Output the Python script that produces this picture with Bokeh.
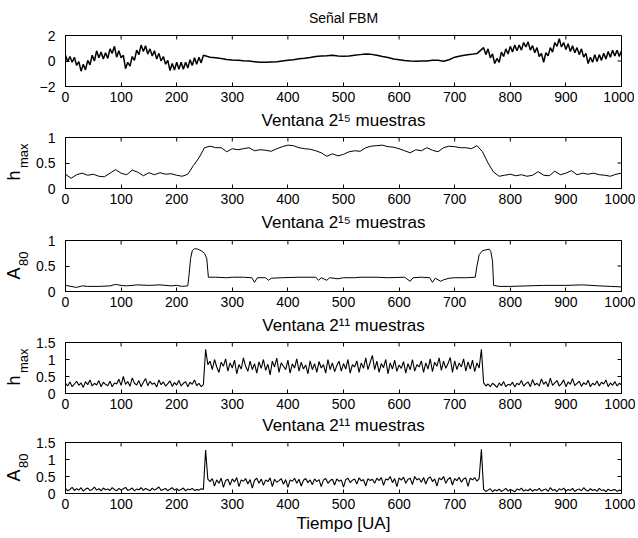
import numpy as np
from bokeh.plotting import figure
from bokeh.layouts import column
from bokeh.models import Range1d, LinearAxis, FixedTicker
from bokeh.embed import file_html
from bokeh.resources import INLINE

# ---------------- data ----------------
x_ticks = [0, 100, 200, 300, 400, 500, 600, 700, 800, 900, 1000]

# Panel 1: Señal FBM
fbm_x = list(range(0, 252, 4)) + list(range(260, 750, 10)) + list(range(752, 1001, 4))
fbm_y = [
    # 0..248 step 4
    0.45, -0.05, 0.35, -0.1, 0.3, -0.35, -0.05, -0.8, -0.25, -0.7,
    0.05, -0.3, 0.45, 0.0, 0.8, 0.25, 0.7, 0.15, 0.65, 0.2,
    0.95, 0.6, 1.15, 0.3, 0.8, 0.25, 0.45, -0.6, -0.1, -0.4,
    0.35, 0.05, 0.85, 0.5, 1.25, 0.75, 1.2, 0.55, 0.95, 0.4,
    0.8, 0.15, 0.6, 0.0, 0.35, -0.25, 0.05, -0.75, -0.2, -0.7,
    -0.1, -0.65, -0.1, -0.65, -0.1, -0.55, 0.1, -0.35, 0.25, -0.25,
    0.3, -0.15, 0.45,
    # 260..740 step 10
    0.3, 0.25, 0.2, 0.12, 0.08, 0.05, 0.02, 0.0, -0.05, -0.1,
    -0.1, -0.08, -0.06, 0.0, 0.05, 0.1, 0.18, 0.22, 0.28, 0.35,
    0.4, 0.42, 0.45, 0.4, 0.37, 0.4, 0.45, 0.5, 0.55, 0.52,
    0.45, 0.35, 0.27, 0.15, 0.09, 0.03, 0.0, -0.02, 0.0, 0.0,
    0.05, 0.06, -0.02, 0.1, 0.3, 0.4, 0.47, 0.52, 0.58,
    # 752..1000 step 4
    1.05, 0.5, 0.95, 0.25, 0.55, -0.2, 0.2, -0.1, 0.7, 0.35,
    0.95, 0.55, 1.15, 0.7, 1.25, 0.8, 1.25, 0.85, 1.45, 1.1,
    1.5, 0.85, 1.2, 0.65, 1.05, 0.35, 0.6, -0.1, 0.65, 0.4,
    1.05, 0.7, 1.45, 1.15, 1.75, 1.1, 1.45, 0.9, 1.35, 0.75,
    1.2, 0.65, 1.05, 0.5, 0.95, 0.3, 0.6, -0.2, 0.3, -0.1,
    0.5, -0.05, 0.5, 0.05, 0.6, 0.15, 0.75, 0.3, 0.85, 0.4,
    0.85, 0.35, 0.8,
]

# Panel 2: h_max, ventana 2^15
hmax15_x = list(range(0, 1001, 10))
hmax15_y = [
    0.28, 0.2, 0.27, 0.3, 0.26, 0.28, 0.24, 0.23, 0.3, 0.37,
    0.3, 0.27, 0.36, 0.32, 0.25, 0.31, 0.27, 0.31, 0.28, 0.29,
    0.26, 0.24, 0.28, 0.45, 0.6, 0.8, 0.83, 0.8, 0.8, 0.72,
    0.78, 0.76, 0.78, 0.8, 0.74, 0.76, 0.75, 0.73, 0.78, 0.82,
    0.85, 0.84, 0.8, 0.78, 0.77, 0.74, 0.7, 0.63, 0.68, 0.64,
    0.67, 0.72, 0.74, 0.73, 0.8, 0.83, 0.84, 0.85, 0.82, 0.81,
    0.78, 0.74, 0.7, 0.76, 0.74, 0.8, 0.75, 0.72, 0.8, 0.83,
    0.82, 0.8, 0.8, 0.78, 0.84, 0.72, 0.5, 0.32, 0.24, 0.26,
    0.28, 0.25, 0.27, 0.24, 0.26, 0.33, 0.26, 0.25, 0.34, 0.27,
    0.3, 0.35, 0.27, 0.3, 0.28, 0.3, 0.27, 0.26, 0.24, 0.28,
    0.3,
]

# Panel 3: A_80, ventana 2^15
a8015_x = [0, 10, 20, 30, 40, 60, 80, 90, 100, 110, 130, 150, 170, 190, 200, 210, 220,
           222, 225, 228, 232, 238, 244, 250, 254, 256, 257, 270, 290, 300, 320, 335,
           340, 345, 360, 365, 370, 390, 420, 450, 455, 460, 470, 475, 490, 500, 520,
           530, 560, 580, 610, 620, 625, 640, 655, 660, 665, 675, 680, 690, 700, 720,
           737, 740, 744, 750, 758, 762, 765, 768, 770, 780, 800, 830, 860, 900, 930,
           960, 980, 1000]
a8015_y = [0.12, 0.1, 0.08, 0.11, 0.1, 0.1, 0.11, 0.14, 0.12, 0.11, 0.13, 0.12, 0.13, 0.11, 0.12, 0.1, 0.11,
           0.3, 0.65, 0.8, 0.84, 0.83, 0.8, 0.75, 0.65, 0.4, 0.28, 0.28, 0.27, 0.28, 0.28, 0.27,
           0.18, 0.27, 0.27, 0.22, 0.26, 0.27, 0.28, 0.28, 0.22, 0.27, 0.22, 0.27, 0.25, 0.27, 0.27,
           0.28, 0.28, 0.27, 0.28, 0.2, 0.27, 0.28, 0.27, 0.18, 0.26, 0.2, 0.23, 0.26, 0.27, 0.27,
           0.28, 0.5, 0.72, 0.8, 0.82, 0.83, 0.78, 0.6, 0.12, 0.1, 0.1, 0.11, 0.12, 0.12, 0.13,
           0.11, 0.1, 0.09]

# Panel 4: h_max, ventana 2^11 (step 4)
hmax11_x = list(range(0, 1001, 4))
hmax11_y = [
    0.3, 0.22, 0.34, 0.2, 0.28, 0.36, 0.24, 0.31, 0.18, 0.35, 0.26, 0.4, 0.22, 0.3, 0.25, 0.38, 0.2, 0.33, 0.27, 0.23, 0.36, 0.2, 0.31, 0.28, 0.42,
    0.24, 0.5, 0.27, 0.35, 0.21, 0.46, 0.3, 0.25, 0.38, 0.2, 0.33, 0.44, 0.23, 0.36, 0.27, 0.31, 0.19, 0.4, 0.26, 0.34, 0.22, 0.29, 0.37, 0.21, 0.32,
    0.25, 0.38, 0.22, 0.3, 0.35, 0.2, 0.33, 0.27, 0.4, 0.23, 0.3, 0.2, 0.26,
    1.3, 0.85, 0.95, 0.7, 1.0, 0.78, 0.62, 0.92, 0.8, 1.02, 0.66, 0.9, 0.75, 0.98, 0.58, 0.85, 0.72, 1.05, 0.8, 0.65, 0.95, 0.7, 0.88, 0.6, 0.93,
    0.74, 1.0, 0.68, 0.86, 0.55, 0.95, 0.78, 1.04, 0.62, 0.9, 0.8, 0.7, 0.98, 0.6, 0.87, 0.75, 1.02, 0.66, 0.92, 0.72, 0.84, 0.58, 0.96, 0.7, 0.88,
    0.62, 0.94, 0.75, 0.85, 0.6, 1.0, 0.7, 0.9, 0.64, 0.82, 0.95, 0.66, 0.88, 0.72, 1.0, 0.6, 0.85, 0.78, 0.96, 0.62, 0.9, 0.74, 1.05, 0.7, 0.92,
    1.12, 0.7, 0.95, 0.62, 0.88, 0.76, 1.0, 0.58, 0.9, 0.72, 0.98, 0.65, 0.84, 0.74, 0.94, 0.6, 0.88, 0.7, 1.0, 0.66, 0.85, 0.78, 0.96, 0.62, 0.9,
    0.72, 1.02, 0.64, 0.92, 0.8, 1.05, 0.68, 0.95, 0.74, 0.88, 1.06, 0.62, 0.96, 0.7, 0.9, 0.78, 1.02, 0.66, 0.93, 0.72, 0.98, 0.64, 0.9, 0.75, 1.3,
    0.32, 0.22, 0.28, 0.2, 0.3, 0.25, 0.18, 0.31, 0.23, 0.35, 0.2, 0.27, 0.24, 0.33, 0.19, 0.3, 0.26, 0.38, 0.22, 0.29, 0.34, 0.2, 0.41, 0.25, 0.3,
    0.22, 0.43, 0.27, 0.35, 0.2, 0.45, 0.24, 0.31, 0.38, 0.22, 0.29, 0.4, 0.2, 0.34, 0.27, 0.44, 0.23, 0.3, 0.36, 0.21, 0.32, 0.26, 0.39, 0.2, 0.3,
    0.25, 0.37, 0.22, 0.33, 0.28, 0.4, 0.2, 0.31, 0.24, 0.35, 0.22, 0.3, 0.26,
]

# Panel 5: A_80, ventana 2^11 (step 4)
a8011_x = list(range(0, 1001, 4))
a8011_y = [
    0.15, 0.08, 0.12, 0.18, 0.09, 0.14, 0.1, 0.17, 0.07, 0.13, 0.16, 0.09, 0.12, 0.19, 0.1, 0.14, 0.08, 0.16, 0.11, 0.13, 0.09, 0.17, 0.12, 0.08, 0.15,
    0.1, 0.14, 0.18, 0.09, 0.12, 0.16, 0.08, 0.13, 0.11, 0.17, 0.09, 0.15, 0.12, 0.08, 0.16, 0.1, 0.14, 0.19, 0.09, 0.12, 0.15, 0.08, 0.13, 0.17, 0.1,
    0.14, 0.09, 0.12, 0.16, 0.08, 0.13, 0.11, 0.15, 0.09, 0.12, 0.1, 0.14, 0.12,
    1.28, 0.42, 0.35, 0.44, 0.22, 0.4, 0.3, 0.45, 0.18, 0.38, 0.42, 0.25, 0.43, 0.34, 0.47, 0.2, 0.4, 0.36, 0.44, 0.28, 0.41, 0.16, 0.39, 0.45, 0.3,
    0.43, 0.24, 0.4, 0.35, 0.46, 0.2, 0.42, 0.33, 0.38, 0.44, 0.27, 0.41, 0.18, 0.4, 0.36, 0.45, 0.3, 0.42, 0.22, 0.39, 0.44, 0.32, 0.4, 0.26, 0.43,
    0.35, 0.41, 0.2, 0.4, 0.44, 0.3, 0.38, 0.42, 0.25, 0.43, 0.36, 0.4, 0.19, 0.41, 0.45, 0.32, 0.39, 0.43, 0.28, 0.46, 0.37, 0.41, 0.22, 0.44, 0.38,
    0.42, 0.3, 0.45, 0.38, 0.47, 0.24, 0.43, 0.4, 0.5, 0.32, 0.44, 0.2, 0.46, 0.39, 0.48, 0.3, 0.42, 0.45, 0.26, 0.5, 0.4, 0.44, 0.33, 0.47, 0.28,
    0.44, 0.49, 0.35, 0.43, 0.22, 0.46, 0.4, 0.5, 0.3, 0.42, 0.47, 0.25, 0.44, 0.38, 0.48, 0.33, 0.43, 0.46, 0.21, 0.45, 0.4, 0.47, 0.36, 0.44, 1.3,
    0.12, 0.06, 0.1, 0.14, 0.05, 0.11, 0.08, 0.13, 0.06, 0.1, 0.15, 0.07, 0.12, 0.09, 0.05, 0.13, 0.1, 0.16, 0.07, 0.11, 0.08, 0.14, 0.06, 0.12, 0.09,
    0.15, 0.07, 0.11, 0.13, 0.06, 0.17, 0.09, 0.12, 0.05, 0.14, 0.1, 0.16, 0.07, 0.12, 0.09, 0.15, 0.06, 0.11, 0.13, 0.08, 0.17, 0.1, 0.07, 0.14, 0.09,
    0.12, 0.06, 0.15, 0.09, 0.11, 0.05, 0.13, 0.08, 0.1, 0.12, 0.06, 0.1, 0.08,
]

# ---------------- layout ----------------
FONT = "Liberation Sans"
FW = 556         # frame width
FH = 51          # frame height
LEFT = 64
RIGHT = 14
NB = "\u00a0"    # non-breaking space (kept by SVG text)


def style_axis(ax):
    ax.axis_line_color = "black"
    ax.major_tick_line_color = "black"
    ax.major_tick_in = 4
    ax.major_tick_out = 0
    ax.minor_tick_line_color = None
    ax.major_label_text_font = FONT
    ax.major_label_text_font_size = "14px"
    ax.major_label_text_color = "black"
    ax.axis_label_text_font = FONT
    ax.axis_label_text_font_size = "17px"
    ax.axis_label_text_font_style = "normal"
    ax.axis_label_text_color = "black"


def bare_axis(label, size, standoff):
    ax = LinearAxis(ticker=FixedTicker(ticks=[], minor_ticks=[]))
    style_axis(ax)
    ax.axis_line_color = None
    ax.major_tick_line_color = None
    ax.major_tick_in = 0
    ax.major_label_standoff = 0
    ax.axis_label = label
    ax.axis_label_text_font_size = size
    ax.axis_label_standoff = standoff
    return ax


def panel(xs, ys, yr, yticks, top, bottom, xlabel, ylab=None, lw=1.0,
          xlab_standoff=6):
    p = figure(frame_width=FW, frame_height=FH,
               output_backend="svg", toolbar_location=None,
               x_range=Range1d(0, 1000), y_range=Range1d(*yr),
               x_axis_type=None, y_axis_type=None,
               min_border_left=LEFT, min_border_right=RIGHT,
               min_border_top=top, min_border_bottom=bottom)
    p.outline_line_color = "black"
    p.outline_line_width = 1
    p.background_fill_color = "white"
    p.border_fill_color = "white"

    xa = LinearAxis(ticker=FixedTicker(ticks=x_ticks, minor_ticks=[]))
    ya = LinearAxis(ticker=FixedTicker(ticks=yticks, minor_ticks=[]))
    style_axis(xa)
    style_axis(ya)
    xa.major_label_standoff = 5
    xa.axis_label = xlabel
    xa.axis_label_standoff = xlab_standoff
    ya.major_label_standoff = 10
    p.add_layout(xa, "below")
    p.add_layout(ya, "left")

    if ylab:
        main, sub, n_main, n_sub = ylab
        # subscript: label of the tick axis (closest to the box)
        ya.axis_label = NB * n_sub + sub
        ya.axis_label_text_font_size = "13px"
        ya.axis_label_standoff = 2
        # main letter: label of a bare axis further out
        p.add_layout(bare_axis(main + NB * n_main, "18px", -10), "left")

    # inward ticks on the top and right edges of the box (half of each dash is clipped)
    p.scatter(x_ticks, [yr[1]] * len(x_ticks), marker="dash", angle=np.pi / 2,
              size=8, line_color="black", line_width=1)
    p.scatter([1000] * len(yticks), yticks, marker="dash",
              size=8, line_color="black", line_width=1)

    p.line(xs, ys, line_color="black", line_width=lw)
    return p


p1 = panel(fbm_x, fbm_y, (-2, 2), [-2, 0, 2], 35, 46,
           "Ventana 2\u00b9\u2075 muestras", lw=1.5)
# centred title, drawn as the label of a bare axis above the box
p1.add_layout(bare_axis("Señal FBM", "14px", 10), "above")

p2 = panel(hmax15_x, hmax15_y, (0, 1), [0, 0.5, 1], 5, 46,
           "Ventana 2\u00b9\u2075 muestras", ("h", "max", 5, 4))
p3 = panel(a8015_x, a8015_y, (0, 1), [0, 0.5, 1], 6, 46,
           "Ventana 2\u00b9\u00b9 muestras", ("A", "80", 3, 4))
p4 = panel(hmax11_x, hmax11_y, (0, 1.5), [0, 0.5, 1, 1.5], 5, 44,
           "Ventana 2\u00b9\u00b9 muestras", ("h", "max", 5, 4), lw=1.1,
           xlab_standoff=4)
p5 = panel(a8011_x, a8011_y, (0, 1.5), [0, 0.5, 1, 1.5], 5, 41,
           "Tiempo [UA]", ("A", "80", 3, 4), lw=1.1, xlab_standoff=2)

layout = column(p1, p2, p3, p4, p5, spacing=0)

with open("out.html", "w") as f:
    f.write(file_html(layout, INLINE))
